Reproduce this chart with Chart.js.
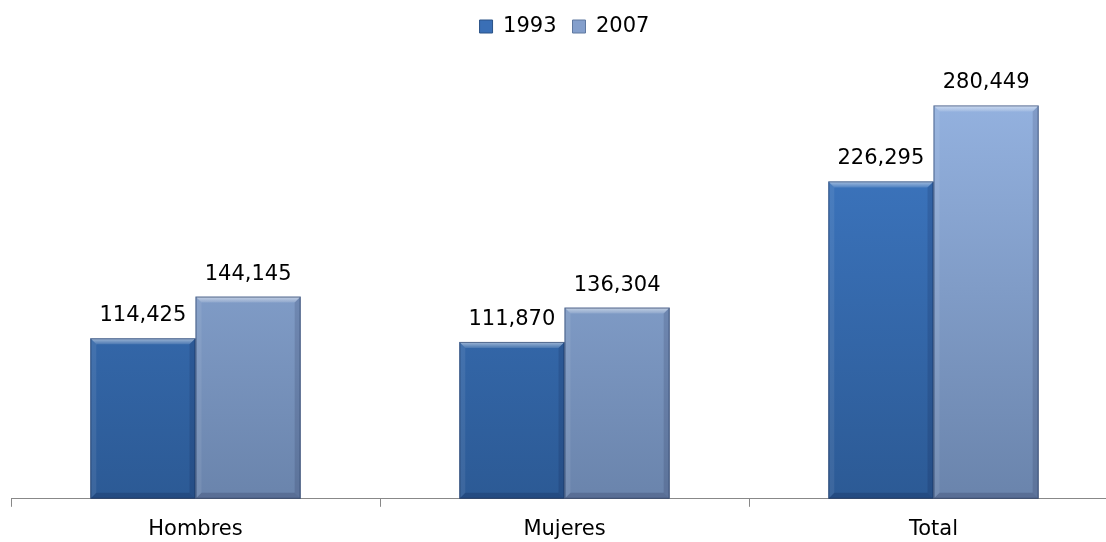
<!DOCTYPE html>
<html><head><meta charset="utf-8">
<script src="https://cdn.jsdelivr.net/npm/chart.js@4/dist/chart.umd.min.js"></script>
<style>html,body{margin:0;padding:0;background:#fff;overflow:hidden;width:1106px;height:542px}#wrap{width:1120px;height:542px;position:relative}canvas{display:block}</style>
</head><body><div id="wrap"><canvas id="c" width="1120" height="542"></canvas></div>
<script>
const categories = ["Hombres", "Mujeres", "Total"];
const seriesNames = ["1993", "2007"];
const values1993 = [114425, 111870, 226295];
const values2007 = [144145, 136304, 280449];

const FONT = "'DejaVu Sans', sans-serif";
const FSIZE = 21;
function grad(ctx, top, bottom) {
  const ch = ctx.chart; const a = ch.chartArea;
  if (!a) return top;
  const g = ch.ctx.createLinearGradient(0, a.top, 0, a.bottom);
  g.addColorStop(0, top); g.addColorStop(1, bottom);
  return g;
}
const fmt = v => v.toLocaleString('en-US');
const bevelPlugin = {
  id: 'bevel',
  afterDatasetsDraw(chart) {
    const c = chart.ctx; const b = 6;
    chart.data.datasets.forEach((ds, i) => {
      chart.getDatasetMeta(i).data.forEach(el => {
        const p = el.getProps(['x','y','base','width'], true);
        const l = p.x - p.width/2, r = p.x + p.width/2, t = p.y, bt = p.base;
        c.save();
        let g = c.createLinearGradient(0, t, 0, t + b);
        g.addColorStop(0, 'rgba(255,255,255,0.55)'); g.addColorStop(1, 'rgba(255,255,255,0.12)');
        c.fillStyle = g;
        c.beginPath(); c.moveTo(l, t); c.lineTo(r, t); c.lineTo(r - b, t + b); c.lineTo(l + b, t + b); c.closePath(); c.fill();
        c.fillStyle = 'rgba(255,255,255,0.08)';
        c.beginPath(); c.moveTo(l, t); c.lineTo(l + b, t + b); c.lineTo(l + b, bt - b); c.lineTo(l, bt); c.closePath(); c.fill();
        c.fillStyle = 'rgba(0,0,30,0.12)';
        c.beginPath(); c.moveTo(r, t); c.lineTo(r - b, t + b); c.lineTo(r - b, bt - b); c.lineTo(r, bt); c.closePath(); c.fill();
        c.fillStyle = 'rgba(0,0,30,0.16)';
        c.beginPath(); c.moveTo(l, bt); c.lineTo(l + b, bt - b); c.lineTo(r - b, bt - b); c.lineTo(r, bt); c.closePath(); c.fill();
        c.strokeStyle = 'rgba(20,40,80,0.55)'; c.lineWidth = 1;
        c.strokeRect(l + 0.5, t + 0.5, p.width - 1, bt - t - 1);
        c.restore();
      });
    });
  }
};
const labelPlugin = {
  id: 'vlabels',
  afterDatasetsDraw(chart) {
    const c = chart.ctx;
    c.save();
    c.font = FSIZE + "px " + FONT; c.fillStyle = "#000"; c.textAlign = "center"; c.textBaseline = "bottom";
    chart.data.datasets.forEach((ds, i) => {
      chart.getDatasetMeta(i).data.forEach((el, j) => {
        c.fillText(fmt(ds.data[j]), el.x, el.y - 12);
      });
    });
    c.restore();
  }
};
const legendSpace = {
  id: 'legendSpace',
  beforeInit(chart) {
    const orig = chart.legend.fit;
    chart.legend.fit = function () { orig.bind(chart.legend)(); this.height += 31; };
  }
};
new Chart(document.getElementById('c'), {
  type: 'bar',
  data: {
    labels: categories,
    datasets: [
      { label: seriesNames[0], data: values1993,
        backgroundColor: ctx => grad(ctx, '#3f7ac6', '#2c5a95'),
        borderWidth: 0 },
      { label: seriesNames[1], data: values2007,
        backgroundColor: ctx => grad(ctx, '#96b4e2', '#6a84ac'),
        borderWidth: 0 }
    ]
  },
  options: {
    responsive: false, animation: false,
    devicePixelRatio: 1,
    categoryPercentage: 0.57, barPercentage: 1.0,
    layout: { padding: { left: 11, right: 2, top: 0, bottom: -10 } },
    plugins: {
      tooltip: { enabled: false },
      legend: {
        position: 'top',
        labels: {
          font: { family: FONT, size: FSIZE }, color: '#000',
          boxWidth: 13, boxHeight: 13, padding: 16,
          generateLabels: ch => [
            { text: seriesNames[0], fillStyle: '#3a6fb6', strokeStyle: '#2a5287', lineWidth: 1, datasetIndex: 0 },
            { text: seriesNames[1], fillStyle: '#849fcc', strokeStyle: '#5f78a0', lineWidth: 1, datasetIndex: 1 }
          ]
        }
      }
    },
    scales: {
      x: {
        grid: { offset: true, drawOnChartArea: false, drawTicks: true, tickLength: 8, color: '#888' },
        border: { color: '#888', width: 1 },
        ticks: { font: { family: FONT, size: FSIZE }, color: '#000', padding: 10 }
      },
      y: { display: false, min: 0, max: 300000 }
    }
  },
  plugins: [legendSpace, bevelPlugin, labelPlugin]
});
</script></body></html>
